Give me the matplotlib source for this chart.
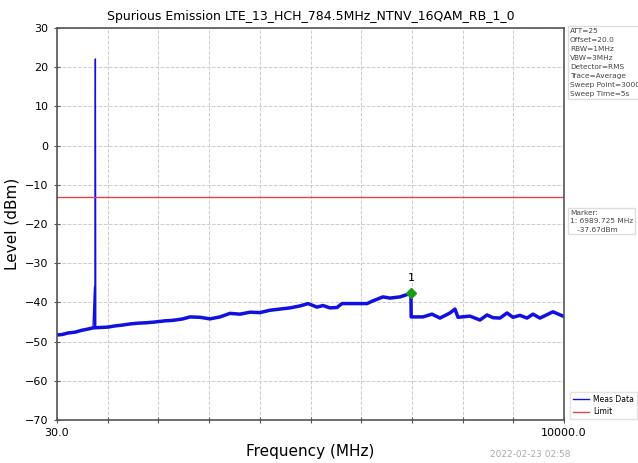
import numpy as np
import matplotlib.pyplot as plt

# measured trace (MHz, dBm)
freq = [30, 128, 246, 384, 522, 640, 738, 760, 770, 775, 784.5, 792,
        876, 1033, 1170, 1308, 1465, 1623, 1780, 1957, 2154, 2291, 2409,
        2508, 2645, 2842, 3039, 3236, 3432, 3629, 3825, 4022, 4219, 4415,
        4612, 4809, 4966, 5143, 5261, 5398, 5536, 5634, 5850, 6126, 6244,
        6440, 6578, 6775, 6989.725, 6995, 7227, 7404, 7561, 7758, 7856,
        7915, 8151, 8348, 8485, 8603, 8741, 8879, 8997, 9134, 9272, 9390,
        9527, 9783, 9980, 10000]
level = [-48.3, -48.2, -47.8, -47.6, -47.1, -46.8, -46.5, -38.5, -36.0, -46.4, 22.1, -46.4,
         -46.4, -46.3, -46.0, -45.8, -45.5, -45.3, -45.2, -45.0, -44.7, -44.6, -44.4,
         -44.2, -43.7, -43.8, -44.2, -43.7, -42.8, -43.0, -42.5, -42.6, -42.0, -41.7,
         -41.4, -40.9, -40.3, -41.2, -40.8, -41.4, -41.3, -40.3, -40.3, -40.3, -39.6,
         -38.6, -38.9, -38.6, -37.67, -43.7, -43.7, -43.0, -44.0, -42.7, -41.7,
         -43.8, -43.5, -44.5, -43.2, -43.9, -44.0, -42.7, -43.8, -43.3, -44.0, -43.0,
         -44.0, -42.4, -43.5, -43.6]
limit = -13.0
marker_f = 6989.725
marker_lvl = -37.67

settings = ["ATT=25", "Offset=20.0", "RBW=1MHz", "VBW=3MHz", "Detector=RMS",
            "Trace=Average", "Sweep Point=3000", "Sweep Time=5s"]

fig = plt.figure(figsize=(6.38, 4.63), dpi=100)
ax = fig.add_axes([57/638, 1-420/463, 507/638, 392/463])

f = np.array(freq)
lv = np.array(level)
ax.plot(f, lv, color='#1010e0', lw=1.0, label='Meas Data')
floor = (f < 750) | (f > 800)
ax.plot(f[floor], lv[floor], color='#1010e0', lw=2.5)
ax.axhline(limit, color='#e04848', lw=1.0, label='Limit')

ax.plot([marker_f], [marker_lvl], marker='D', color='#1a9a1a', ms=5, zorder=5)
ax.text(marker_f, marker_lvl + 2.5, '1', ha='center', va='bottom', fontsize=8)

ax.set_xlim(30, 10000)
ax.set_ylim(-70, 30)
ax.set_yticks(np.arange(-70, 31, 10))
xt = np.linspace(30, 10000, 11)
ax.set_xticks(xt)
ax.set_xticklabels(['30.0'] + [''] * 9 + ['10000.0'])
ax.tick_params(labelsize=8, direction='inout', length=5, color='#555555')
ax.grid(True, color='#cccccc', ls='--', lw=0.7)
for s in ax.spines.values():
    s.set_color('#555555')
    s.set_linewidth(1.2)

ax.set_title('Spurious Emission LTE_13_HCH_784.5MHz_NTNV_16QAM_RB_1_0', fontsize=9, pad=6)
ax.set_xlabel('Frequency (MHz)', fontsize=11)
ax.set_ylabel('Level (dBm)', fontsize=11)

fig.text(570/638, 1-28/463, '\n'.join(settings), fontsize=5.3, va='top', ha='left',
         color='#444444', linespacing=1.6,
         bbox=dict(facecolor='white', edgecolor='#dddddd', boxstyle='square,pad=0.25'))
fig.text(570/638, 1-210/463, 'Marker:\n1: %.3f MHz\n   %.2fdBm' % (marker_f, marker_lvl),
         fontsize=5.3, va='top', ha='left', color='#444444', linespacing=1.45,
         bbox=dict(facecolor='white', edgecolor='#dddddd', boxstyle='square,pad=0.25'))

fig.legend(loc='upper left', bbox_to_anchor=(568/638, 1-390/463), fontsize=5.5,
           frameon=True, edgecolor='#dddddd', fancybox=False, handlelength=2.2,
           borderaxespad=0.2, handletextpad=0.5)

fig.text(490/638, 1-457/463, '2022-02-23 02:58', fontsize=6.5, color='#aaaaaa')

fig.savefig('out.png', dpi=100)
